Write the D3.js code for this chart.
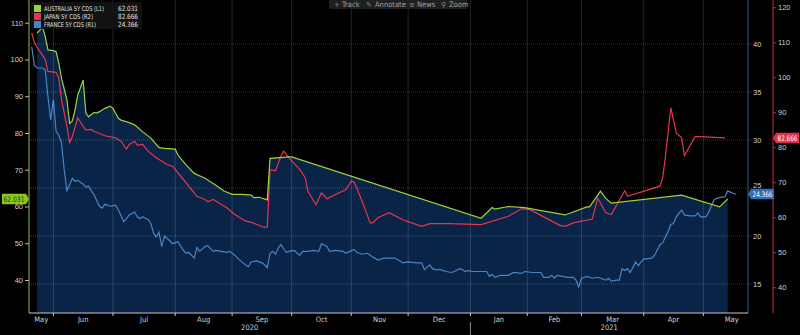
<!DOCTYPE html>
<html><head><meta charset="utf-8">
<script src="https://cdn.jsdelivr.net/npm/d3@7"></script>
<style>
body{margin:0;background:#000;}
svg{display:block;font-family:"Liberation Sans Narrow","DejaVu Sans Condensed","Liberation Sans",sans-serif;}
</style>
</head><body>
<svg id="chart" width="800" height="335"></svg>
<script>
// ---------- DATA ----------
const seriesNames = ["AUSTRALIA 5Y CDS (L1)", "JAPAN 5Y CDS (R2)", "FRANCE 5Y CDS (R1)"];
const lastValues = ["62.031", "82.666", "24.366"];

const ausDates = ["2020-05-22","2020-05-26","2020-05-27","2020-05-28","2020-06-01","2020-06-02","2020-06-03","2020-06-04","2020-06-08","2020-06-09","2020-06-10","2020-06-11","2020-06-12","2020-06-16","2020-06-17","2020-06-18","2020-06-22","2020-06-23","2020-06-24","2020-06-26","2020-06-30","2020-07-01","2020-07-03","2020-07-06","2020-07-09","2020-07-13","2020-07-16","2020-07-21","2020-07-24","2020-07-28","2020-08-03","2020-08-04","2020-08-07","2020-08-12","2020-08-18","2020-08-24","2020-08-27","2020-09-01","2020-09-07","2020-09-10","2020-09-11","2020-09-15","2020-09-18","2020-09-21","2020-09-30","2020-10-01","2021-01-07","2021-01-13","2021-01-14","2021-01-21","2021-01-29","2021-02-19","2021-03-03","2021-03-04","2021-03-09","2021-03-10","2021-03-12","2021-03-16","2021-04-21","2021-05-11","2021-05-14"];
const ausValues = [107.2,108.8,106.2,102.6,102.4,102.1,99.0,94.9,89.0,82.6,83.3,86.3,90.3,94.4,85.4,84.4,85.6,85.4,85.8,86.7,87.3,86.7,84.0,83.5,82.8,82.2,80.3,78.6,76.0,75.8,75.6,74.0,71.3,69.0,67.7,65.8,64.2,63.3,63.3,63.1,62.4,62.5,61.8,73.1,73.5,73.5,56.8,59.7,59.3,60.0,59.7,57.7,59.9,59.9,63.1,64.2,62.2,60.9,63.1,59.9,62.031];

const jpnDates = ["2020-05-20","2020-05-21","2020-05-25","2020-05-27","2020-05-28","2020-06-02","2020-06-03","2020-06-04","2020-06-08","2020-06-09","2020-06-10","2020-06-12","2020-06-16","2020-06-17","2020-06-19","2020-06-22","2020-06-26","2020-07-02","2020-07-06","2020-07-08","2020-07-09","2020-07-13","2020-07-14","2020-07-16","2020-07-20","2020-07-23","2020-07-29","2020-07-31","2020-08-06","2020-08-13","2020-08-18","2020-08-19","2020-08-21","2020-08-28","2020-09-02","2020-09-08","2020-09-10","2020-09-17","2020-09-18","2020-09-21","2020-09-23","2020-09-25","2020-09-28","2020-09-30","2020-10-06","2020-10-08","2020-10-09","2020-10-14","2020-10-16","2020-10-20","2020-10-29","2020-11-02","2020-11-03","2020-11-04","2020-11-06","2020-11-11","2020-11-12","2020-11-16","2020-11-17","2020-11-20","2020-11-27","2020-12-08","2020-12-11","2020-12-22","2021-01-07","2021-01-21","2021-01-28","2021-02-02","2021-02-17","2021-02-19","2021-02-24","2021-03-05","2021-03-09","2021-03-12","2021-03-16","2021-03-23","2021-03-24","2021-04-09","2021-04-12","2021-04-13","2021-04-15","2021-04-19","2021-04-21","2021-04-22","2021-04-28","2021-05-13"];
const jpnValues = [112.7,109.8,107.4,105.1,101.7,101.4,99.8,93.6,86.0,81.3,83.1,88.4,86.0,84.9,85.1,84.6,83.3,82.7,81.7,79.5,80.8,81.7,80.6,80.8,78.9,77.0,75.1,74.6,70.8,66.0,65.1,64.4,65.1,62.7,60.8,58.9,58.6,57.1,57.3,73.6,73.3,77.4,78.9,77.0,73.6,71.3,67.4,63.6,67.0,65.3,67.9,70.3,70.1,68.4,64.6,58.4,58.4,60.0,60.3,61.3,59.3,57.4,58.2,58.2,57.9,60.3,62.5,62.2,57.7,57.4,58.4,59.5,65.5,61.3,60.8,67.6,66.0,68.9,71.3,77.3,91.3,84.1,82.7,77.6,83.1,82.666];

const fraDates = ["2020-05-20","2020-05-21","2020-05-22","2020-05-26","2020-05-27","2020-05-28","2020-05-29","2020-06-01","2020-06-02","2020-06-03","2020-06-04","2020-06-05","2020-06-08","2020-06-10","2020-06-11","2020-06-12","2020-06-16","2020-06-17","2020-06-18","2020-06-19","2020-06-22","2020-06-24","2020-06-25","2020-06-26","2020-06-30","2020-07-02","2020-07-03","2020-07-07","2020-07-08","2020-07-09","2020-07-13","2020-07-14","2020-07-15","2020-07-16","2020-07-20","2020-07-21","2020-07-22","2020-07-23","2020-07-24","2020-07-27","2020-07-28","2020-07-30","2020-07-31","2020-08-04","2020-08-06","2020-08-07","2020-08-10","2020-08-12","2020-08-13","2020-08-14","2020-08-18","2020-08-19","2020-08-21","2020-08-24","2020-08-26","2020-08-28","2020-08-31","2020-09-02","2020-09-03","2020-09-07","2020-09-09","2020-09-10","2020-09-14","2020-09-16","2020-09-17","2020-09-18","2020-09-21","2020-09-22","2020-09-23","2020-09-24","2020-09-25","2020-09-28","2020-09-29","2020-09-30","2020-10-02","2020-10-05","2020-10-06","2020-10-07","2020-10-09","2020-10-13","2020-10-15","2020-10-16","2020-10-20","2020-10-21","2020-10-23","2020-10-28","2020-10-29","2020-11-03","2020-11-04","2020-11-06","2020-11-10","2020-11-12","2020-11-16","2020-11-18","2020-11-20","2020-11-24","2020-11-26","2020-11-27","2020-12-01","2020-12-04","2020-12-08","2020-12-09","2020-12-11","2020-12-14","2020-12-15","2020-12-17","2020-12-21","2020-12-23","2020-12-24","2020-12-28","2020-12-29","2020-12-30","2020-12-31","2021-01-04","2021-01-07","2021-01-11","2021-01-12","2021-01-13","2021-01-14","2021-01-18","2021-01-19","2021-01-21","2021-01-25","2021-01-28","2021-01-29","2021-02-03","2021-02-08","2021-02-09","2021-02-11","2021-02-12","2021-02-15","2021-02-16","2021-02-18","2021-02-22","2021-02-24","2021-02-25","2021-02-26","2021-03-01","2021-03-03","2021-03-05","2021-03-09","2021-03-12","2021-03-15","2021-03-16","2021-03-18","2021-03-19","2021-03-22","2021-03-23","2021-03-24","2021-03-25","2021-03-29","2021-03-30","2021-03-31","2021-04-01","2021-04-06","2021-04-07","2021-04-09","2021-04-12","2021-04-13","2021-04-14","2021-04-15","2021-04-16","2021-04-19","2021-04-21","2021-04-22","2021-04-26","2021-04-28","2021-04-29","2021-04-30","2021-05-04","2021-05-05","2021-05-07","2021-05-11","2021-05-13","2021-05-14","2021-05-18","2021-05-19"];
const fraValues = [39.7,37.8,37.5,37.5,37.3,34.5,32.1,34.2,30.9,30.5,29.7,26.9,24.7,26.0,25.7,25.8,25.4,25.1,25.2,24.7,24.3,23.1,22.9,23.3,23.1,23.2,22.7,21.5,21.8,22.2,22.5,22.0,21.8,22.0,21.7,21.3,20.3,19.9,20.4,18.9,20.0,19.5,19.2,19.4,18.5,18.2,18.3,17.7,18.8,18.4,18.9,19.0,18.4,18.5,18.4,18.3,18.4,18.0,17.7,17.2,16.8,17.3,17.4,17.2,17.0,16.7,18.2,18.4,18.1,18.7,19.1,18.7,18.3,18.4,18.5,18.2,18.0,18.4,18.4,18.5,18.4,19.2,18.9,18.4,18.5,18.4,18.2,18.6,18.3,18.1,18.2,17.8,17.5,17.7,17.7,17.7,17.4,17.2,17.3,17.2,17.2,16.5,17.0,16.6,16.5,16.5,16.3,16.2,16.3,16.6,16.5,16.3,16.4,16.3,16.3,16.3,15.8,16.0,15.7,15.9,15.9,15.9,16.2,16.1,16.3,16.2,16.2,15.7,15.7,15.9,15.6,15.9,15.8,15.7,15.7,15.4,14.7,15.6,15.8,15.6,15.7,15.4,15.6,15.3,15.4,15.4,16.6,16.4,16.6,16.2,17.3,16.9,17.3,17.6,17.7,18.0,19.1,19.3,19.9,20.5,21.2,21.3,22.0,22.7,22.2,22.1,22.1,22.4,22.0,22.0,22.5,23.8,24.0,24.1,24.7,24.45,24.366];

const leftTicks = [40,50,60,70,80,90,100,110];
const r1Ticks = [15,20,25,30,35,40];
const r2Ticks = [40,50,60,70,80,90,100,110,120];
const yearLabels = ["2020","2021"];
const toolbarItems = [["+","Track"],["✎","Annotate"],["≡","News"],["⚲","Zoom"]];

// ---------- SETUP ----------
const colors = {aus:"#9fd13a", jpn:"#e8344f", fra:"#4a83c4", fill:"#0a2447"};
const parse = d3.timeParse("%Y-%m-%d");
const startDate = parse("2020-05-19");
const isWk = d => d.getDay() !== 0 && d.getDay() !== 6;
const biz = d => d3.timeDay.range(startDate, d).filter(isWk).length;

const L = 29, R = 748, T = 0, B = 313;
const x = d3.scaleLinear().domain([0, 265.5]).range([L, R]);
const yL = d3.scaleLinear().domain([40,110]).range([280,22.7]);
const yR1 = d3.scaleLinear().domain([15,40]).range([284,44]);
const yR2 = d3.scaleLinear().domain([40,120]).range([287.3,7.3]);

const mk = (ds, vs) => ds.map((d,i) => ({i: biz(parse(d)), v: vs[i]}));
const aus = mk(ausDates, ausValues), jpn = mk(jpnDates, jpnValues), fra = mk(fraDates, fraValues);

const svg = d3.select("#chart");
svg.append("rect").attr("width",800).attr("height",335).attr("fill","#000");
svg.append("defs").append("clipPath").attr("id","clip").append("rect")
  .attr("x",L).attr("y",T).attr("width",R-L).attr("height",B-T);
const plot = svg.append("g").attr("clip-path","url(#clip)");

// area under Australia
plot.append("path").datum(aus)
  .attr("d", d3.area().x(d=>x(d.i)).y0(B).y1(d=>yL(d.v)))
  .attr("fill", colors.fill);

// month ticks
const firstWk = m => { let d = m; while(!isWk(d)) d = d3.timeDay.offset(d,1); return d; };
const months = d3.timeMonth.range(parse("2020-05-01"), parse("2021-06-02"));
const mPos = months.map(m => ({m, x: m < startDate ? L : x(biz(firstWk(m)))}));

// vertical grid
const grid = svg.append("g");
mPos.slice(1).filter(p => p.x < R).forEach(p => {
  grid.append("line").attr("x1",p.x).attr("x2",p.x).attr("y1",T).attr("y2",B)
    .attr("stroke","#ffffff").attr("stroke-opacity",0.14).attr("stroke-width",1);
});
// horizontal grid (R1)
r1Ticks.forEach(t => {
  grid.append("line").attr("x1",L).attr("x2",752).attr("y1",yR1(t)).attr("y2",yR1(t))
    .attr("stroke","#ffffff").attr("stroke-opacity",0.22).attr("stroke-dasharray","1,1");
});

// lines
const line = (ys) => d3.line().x(d=>x(d.i)).y(d=>ys(d.v));
plot.append("path").datum(fra).attr("d", line(yR1)).attr("fill","none").attr("stroke",colors.fra).attr("stroke-width",1.2);
plot.append("path").datum(jpn).attr("d", line(yR2)).attr("fill","none").attr("stroke",colors.jpn).attr("stroke-width",1.2);
plot.append("path").datum(aus).attr("d", line(yL)).attr("fill","none").attr("stroke",colors.aus).attr("stroke-width",1.2);

// axes
const styleAxis = (g, domainColor) => {
  g.select(".domain").attr("stroke", domainColor);
  g.selectAll(".tick line").attr("stroke", "#bbb");
  g.selectAll(".tick text").attr("fill","#cfcfcf").attr("font-size","7.5px").attr("font-family",null);
};
const gL = svg.append("g").attr("transform",`translate(${L},0)`)
  .call(d3.axisLeft(yL).tickValues(leftTicks).tickSize(4).tickSizeOuter(0).tickPadding(2));
gL.select(".domain").attr("d",`M0,${T}V${B}`);
styleAxis(gL, "#8fbf3a");

const gR1 = svg.append("g").attr("transform",`translate(${R},0)`)
  .call(d3.axisRight(yR1).tickValues(r1Ticks).tickSize(0).tickSizeOuter(0).tickPadding(5));
gR1.select(".domain").attr("d",`M0,${T}V${B}`);
styleAxis(gR1, "#3d5878");
// label 25 is partly covered by the last-value badge, as in the reference
gR1.selectAll(".tick").filter(d => d === 25).select("text").attr("dy","-0.1em");

const gR2 = svg.append("g").attr("transform",`translate(773,0)`)
  .call(d3.axisRight(yR2).tickValues(r2Ticks).tickSize(3).tickSizeOuter(0).tickPadding(2));
gR2.select(".domain").attr("d",`M0,${T}V${B}`);
styleAxis(gR2, "#c22a40");
gR2.selectAll(".tick line").attr("stroke","#c22a40");

// bottom axis
const gB = svg.append("g");
gB.append("line").attr("x1",L).attr("x2",R).attr("y1",B).attr("y2",B).attr("stroke","#c8c8c8");
mPos.slice(1).filter(p => p.x <= R).forEach(p => {
  gB.append("line").attr("x1",p.x).attr("x2",p.x).attr("y1",B).attr("y2",B+3).attr("stroke","#c8c8c8");
});
const fmt = d3.timeFormat("%b");
mPos.slice(0,-1).forEach((p,k) => {
  const cx = (p.x + mPos[k+1].x)/2;
  gB.append("text").attr("x",cx).attr("y",B+9).attr("text-anchor","middle")
    .attr("fill","#cfcfcf").attr("font-size","7.5px").text(fmt(p.m));
});
const xJan = x(biz(firstWk(parse("2021-01-01"))));
gB.append("line").attr("x1",xJan).attr("x2",xJan).attr("y1",B+9).attr("y2",335).attr("stroke","#888");
[[L,xJan],[xJan,R]].forEach((s,k) => {
  gB.append("text").attr("x",(s[0]+s[1])/2).attr("y",B+17).attr("text-anchor","middle")
    .attr("fill","#cfcfcf").attr("font-size","7.5px").text(yearLabels[k]);
});

// legend
const lg = svg.append("g");
lg.append("rect").attr("x",31).attr("y",2).attr("width",111).attr("height",27).attr("fill","#141414").attr("fill-opacity",0.9);
const nameLen = [60, 49, 52];
[colors.aus, colors.jpn, colors.fra].forEach((c,k) => {
  const cy = 8.5 + k*8;
  lg.append("rect").attr("x",34).attr("y",cy-3.5).attr("width",7).attr("height",7).attr("fill",c);
  lg.append("text").attr("x",44).attr("y",cy+2.6).attr("fill","#e0e0e0").attr("font-size","6.6px")
    .attr("textLength",nameLen[k]).attr("lengthAdjust","spacingAndGlyphs").text(seriesNames[k]);
  lg.append("text").attr("x",118).attr("y",cy+2.6).attr("fill","#e0e0e0").attr("font-size","7.2px")
    .attr("textLength",20).attr("lengthAdjust","spacingAndGlyphs").text(lastValues[k]);
});

// badges
function badge(xp, yc, w, dir, fill, txtColor, label){
  const h = 10.5, g = svg.append("g");
  const x0 = dir < 0 ? xp - 3 - w : xp + 3;
  const pts = dir < 0
    ? [[x0,yc-h/2],[x0+w,yc-h/2],[xp,yc],[x0+w,yc+h/2],[x0,yc+h/2]]
    : [[xp,yc],[x0,yc-h/2],[x0+w,yc-h/2],[x0+w,yc+h/2],[x0,yc+h/2]];
  g.append("path").attr("d", d3.line()(pts) + "Z").attr("fill", fill);
  g.append("text").attr("x", x0 + w/2).attr("y", yc+2.7).attr("text-anchor","middle")
    .attr("fill", txtColor).attr("font-size","7.5px").attr("textLength", w-3).attr("lengthAdjust","spacingAndGlyphs").text(label);
}
badge(L, yL(+lastValues[0]), 24, -1, "#8cc71f", "#1d3a05", lastValues[0]);
badge(R, yR1(+lastValues[2]), 23, 1, "#2f6db4", "#ffffff", lastValues[2]);
badge(773, yR2(+lastValues[1]), 23, 1, "#e0304a", "#ffffff", lastValues[1]);

// toolbar
const tb = svg.append("g");
tb.append("rect").attr("x",329).attr("y",0).attr("width",138).attr("height",9).attr("fill","#1f1f1f");
const tbX = [[334,342],[366,375],[409,417],[441,449]];
toolbarItems.forEach((it,k) => {
  tb.append("text").attr("x",tbX[k][0]).attr("y",7).attr("fill","#8a8a8a").attr("font-size","7px").attr("font-family","DejaVu Sans").text(it[0]);
  tb.append("text").attr("x",tbX[k][1]).attr("y",7).attr("fill","#a0a0a0").attr("font-size","7.5px").text(it[1]);
});
</script>
</body></html>
